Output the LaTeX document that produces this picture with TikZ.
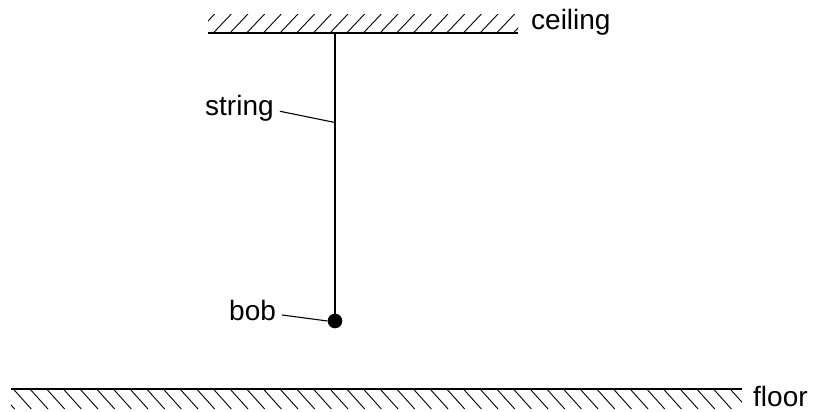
\documentclass[tikz,border=0pt]{standalone}
\usepackage{fontspec}
\setmainfont{Liberation Sans}
\usepackage{tikz}

\begin{document}
\begin{tikzpicture}[x=1pt,y=-1pt,
  lbl/.style={anchor=base west, inner sep=0pt, font=\fontsize{28}{33}\selectfont},
  hatch/.style={line width=.9pt}]
\useasboundingbox (0,0) rectangle (815,412);
% ceiling
\begin{scope}
\clip (208,15) rectangle (518,33);
\foreach \i in {-1,...,18}{
	\draw[hatch] (213.3+16.67*\i,33) -- ++(18,-19);
}
\end{scope}
\draw[line width=2.2pt] (208,33) -- (518,33);
\coordinate (top) at (335,33);
\node[lbl] (ceil) at (531,29.3) {ceiling};
% floor
\begin{scope}
\clip (11,389) rectangle (742,409);
\foreach \i in {-1,...,44}{
	\draw[hatch] (13.3+16.67*\i,389) -- ++(18,20);
}
\end{scope}
\draw[line width=2.6pt] (11,389) -- (742,389);
\node[lbl] (flr) at (753,406.5) {floor};
% pendulum
\node[circle, fill, inner sep=0pt, minimum size=14.6pt] (bob) at (335,321) {};
\draw[line width=1.8pt] (top) -- (bob.center);
\coordinate (strpt) at (335,122.5);
\node[lbl] (strlbl) at (205,116) {string};
\node[lbl] (boblbl) at (229,320.5) {bob};
\draw[line width=1.1pt] ([xshift=6pt,yshift=-2.5pt]strlbl.east) -- (strpt);
\draw[line width=1.1pt] ([xshift=6pt,yshift=-4.5pt]boblbl.east) -- (bob.west);
\end{tikzpicture}
\end{document}
